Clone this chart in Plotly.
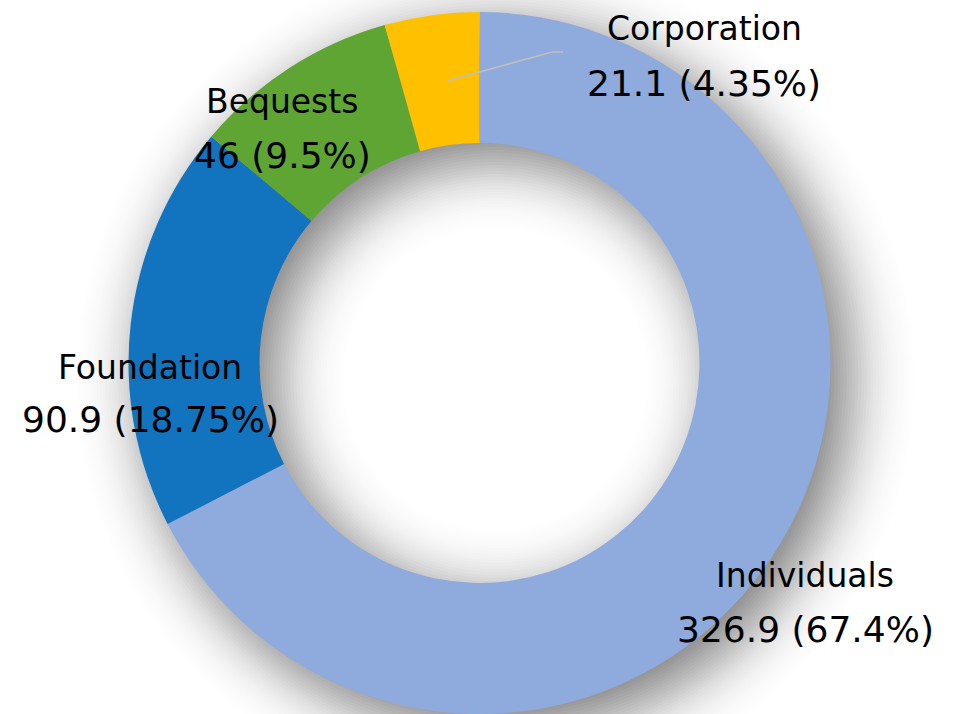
import math
import plotly.graph_objects as go

# ---- data ----
categories = ["Individuals", "Foundation", "Bequests", "Corporation"]
values = [326.9, 90.9, 46, 21.1]
value_labels = ["326.9", "90.9", "46", "21.1"]
percent_labels = ["67.4%", "18.75%", "9.5%", "4.35%"]
colors = ["#8FAADC", "#1273BE", "#5FA534", "#FFC000"]

# ---- layout helpers (pixel positions of the reference) ----
W, VH = 957, 714
T, B = 120, 120
H = VH + T + B


def fx(x):
    return x / W


def fy(y):
    return 1 - (y + T) / H


CX, CY, R, RIN = 479.5, 363, 351, 220


def domain(cx, cy, rad):
    return dict(x=[fx(cx - rad), fx(cx + rad)], y=[fy(cy + rad), fy(cy - rad)])


fig = go.Figure()

# ---- soft drop shadow: stacked translucent rings approximating a blurred, offset ring ----
OX, OY = 16, 16
SIGMA, PEAK, STEP = 33.0, 0.52, 3


def cum(u):
    return PEAK * 0.5 * (1 - math.erf(u / (SIGMA * math.sqrt(2))))


d = 99
while d >= -36:
    a_hi = cum(d - STEP / 2)
    a_lo = cum(d + STEP / 2)
    alpha = 1 - (1 - a_hi) / (1 - a_lo)
    fig.add_trace(go.Pie(
        values=[1], labels=["shadow"],
        marker=dict(colors=[f"rgba(0,0,0,{alpha:.5f})"], line=dict(width=0)),
        hole=(RIN - d) / (R + d),
        domain=domain(CX + OX, CY + OY, R + d),
        textinfo="none", hoverinfo="skip", sort=False, showlegend=False,
    ))
    d -= STEP

fig.add_trace(go.Pie(
    labels=categories, values=values,
    marker=dict(colors=colors, line=dict(width=0)),
    hole=RIN / R,
    domain=domain(CX, CY, R),
    direction="clockwise", sort=False, rotation=0,
    textinfo="none", hoverinfo="label+value+percent", showlegend=False,
))

FS_NAME, FS_VAL = 33, 36
FAMILY = "DejaVu Sans, sans-serif"
# (center x, baseline of name line, baseline of value line)
label_pos = [(805, 586, 641), (150, 378, 431), (282, 112, 167), (704, 39, 95)]

annotations = []
for cat, v, p, (x, b1, b2) in zip(categories, value_labels, percent_labels, label_pos):
    for txt, bl, fs in ((cat, b1, FS_NAME), (f"{v} ({p})", b2, FS_VAL)):
        annotations.append(dict(
            text=txt, x=fx(x), y=fy(bl - 0.33 * fs), xref="paper", yref="paper",
            xanchor="center", yanchor="middle", showarrow=False,
            font=dict(family=FAMILY, size=fs, color="#000000"),
        ))

shapes = [
    dict(type="line", xref="paper", yref="paper", x0=fx(447), y0=fy(81), x1=fx(552), y1=fy(52),
         line=dict(color="#BFBFBF", width=1.5)),
    dict(type="line", xref="paper", yref="paper", x0=fx(552), y0=fy(52), x1=fx(563), y1=fy(52),
         line=dict(color="#BFBFBF", width=1.5)),
]

fig.update_layout(
    width=W, height=H,
    margin=dict(l=0, r=0, t=0, b=0),
    paper_bgcolor="#FFFFFF", plot_bgcolor="#FFFFFF",
    showlegend=False,
    annotations=annotations, shapes=shapes,
)

post = (
    "var gd=document.getElementById('{plot_id}');"
    "document.documentElement.style.overflow='hidden';"
    "document.body.style.margin='0';document.body.style.overflow='hidden';"
    "var p=gd.parentElement;p.style.height='714px';p.style.overflow='hidden';"
    "gd.style.marginTop='-" + str(T) + "px';"
)

fig.write_html("out.html", config={"displayModeBar": False}, post_script=post)
